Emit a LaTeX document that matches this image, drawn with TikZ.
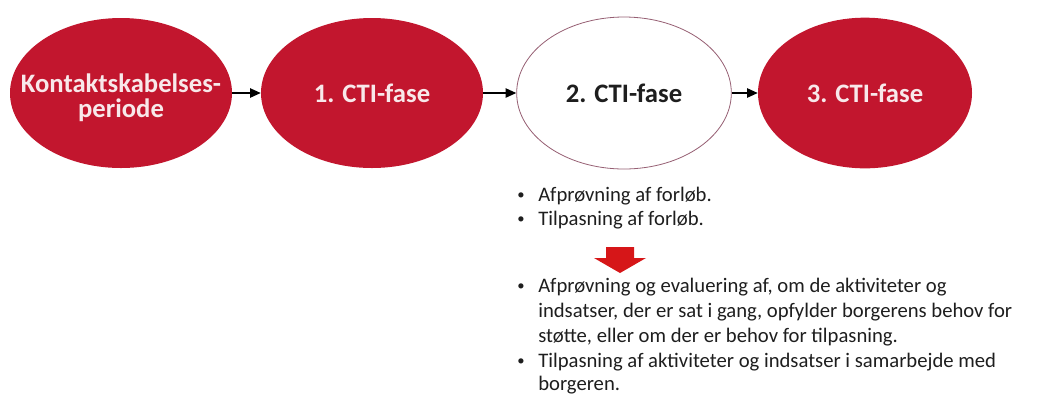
\documentclass[tikz,border=0pt]{standalone}
\usepackage{fontspec}
\setmainfont{Carlito}
\usetikzlibrary{shapes.geometric,arrows.meta}
\definecolor{phasered}{RGB}{194,22,46}
\definecolor{arrowred}{RGB}{214,22,24}
\definecolor{rimcol}{RGB}{150,95,115}
\definecolor{ptext}{RGB}{248,232,234}
\definecolor{btext}{RGB}{30,30,30}
\begin{document}
\begin{tikzpicture}[x=0.75pt,y=-0.75pt,
  phase/.style={ellipse,inner sep=0pt},
  redphase/.style={phase,fill=phasered},
  whitephase/.style={phase,draw=rimcol,line width=0.6pt,fill=white},
  ptxt/.style={inner sep=0pt,font=\fontsize{20}{19}\selectfont\bfseries,align=center,text=ptext},
  wtxt/.style={ptxt,text=btext},
  conn/.style={-{Triangle[length=8pt,width=7pt]},line width=1.1pt,black},
  bul/.style={anchor=base west,inner sep=0pt,font=\fontsize{15.5}{18}\selectfont,text=btext},
  dot/.style={anchor=base west,inner sep=0pt,font=\fontsize{11}{13}\selectfont,text=btext},
  bigarrow/.style={fill=arrowred,draw=none}]
\useasboundingbox (0,0) rectangle (1052,405);
\node[redphase,minimum width=166.5pt,minimum height=112.5pt] (e1) at (121,93) {};
\node[ptxt] (e1t) at (121,98) {Kontaktskabelses-\\periode};
\node[redphase,minimum width=166.5pt,minimum height=112.5pt] (e2) at (372,93) {};
\node[ptxt] (e2t) at (e2.center) {1. CTI-fase};
\node[whitephase,minimum width=161pt,minimum height=114pt] (e3) at (624,93) {};
\node[wtxt] (e3t) at (e3.center) {2. CTI-fase};
\node[redphase,minimum width=160.5pt,minimum height=113pt] (e4) at (865,93) {};
\node[ptxt] (e4t) at (e4.center) {3. CTI-fase};
\draw[conn] (e1) -- (e2);
\draw[conn] (e2) -- (e3);
\draw[conn] (e3) -- (e4);
% first list
\node[dot] (b1) at (517,199) {•};
\node[bul] (t1) at (538,201) {Afprøvning af forløb.};
\node[dot] (b2) at (517,223) {•};
\node[bul] (t2) at (538,225) {Tilpasning af forløb.};
% red down arrow
\fill[bigarrow] (606,247) -- (634,247) -- (634,258) -- (646,258) -- (620,273) -- (594,258) -- (606,258) -- cycle;
% second list
\node[dot] (b3) at (517,290) {•};
\node[bul] (t3) at (538,292) {Afprøvning og evaluering af, om de aktiviteter og};
\node[bul] (t4) at (538,317) {indsatser, der er sat i gang, opfylder borgerens behov for};
\node[bul] (t5) at (538,342) {støtte, eller om der er behov for tilpasning.};
\node[dot] (b4) at (517,365) {•};
\node[bul] (t6) at (538,367) {Tilpasning af aktiviteter og indsatser i samarbejde med};
\node[bul] (t7) at (538,390) {borgeren.};
\end{tikzpicture}
\end{document}
